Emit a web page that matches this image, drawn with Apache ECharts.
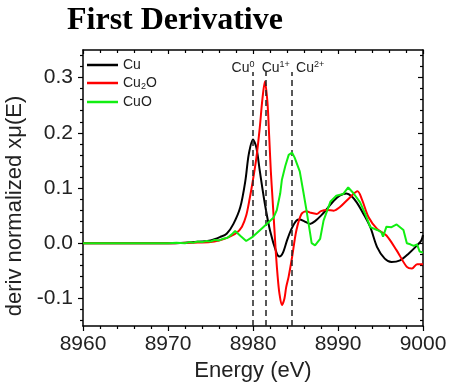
<!DOCTYPE html>
<html>
<head>
<meta charset="utf-8">
<script src="https://cdn.jsdelivr.net/npm/echarts@6/dist/echarts.min.js"></script>
<style>html,body{margin:0;padding:0;background:#fff}#c{width:452px;height:386px}</style>
</head>
<body>
<div id="c"></div>
<script>
// ---- data ----
const titleText = 'First Derivative';
const xName = 'Energy (eV)';
const yName = 'deriv normalized x\u03bc(E)';
const seriesNames = ['Cu', 'Cu2O', 'CuO'];
const xTicks = [8960, 8970, 8980, 8990, 9000];
const yTicks = [-0.1, 0.0, 0.1, 0.2, 0.3];
const yMinorTicks = [-0.14,-0.12,-0.08,-0.06,-0.04,-0.02,0.02,0.04,0.06,0.08,0.12,0.14,0.16,0.18,0.22,0.24,0.26,0.28,0.32,0.34];
const refEnergies = [8980.0, 8981.5, 8984.6];
const refLabels = ['0', '1+', '2+'];

const cuE = [8960,8965,8970,8972,8974,8975,8976.1,8976.9,8977.7,8978.5,8979.1,8979.5,8980.0,8980.4,8980.8,8981.4,8982.0,8982.8,8983.1,8983.5,8984.0,8984.5,8985.1,8985.5,8986.0,8986.7,8987.3,8988.0,8988.7,8989.5,8990.2,8991.0,8991.6,8992.2,8993.0,8993.8,8994.6,8995.5,8996.3,8997.3,8998.3,8999.3,8999.8,9000];
const cuY = [0,0,0,0.001,0.003,0.005,0.011,0.017,0.035,0.065,0.113,0.161,0.188,0.173,0.131,0.071,0.023,-0.019,-0.024,-0.018,0.005,0.025,0.041,0.043,0.040,0.035,0.040,0.050,0.062,0.077,0.086,0.090,0.085,0.074,0.053,0.029,-0.007,-0.028,-0.034,-0.031,-0.019,-0.004,0.005,0.015];

const cu2oE = [8960,8965,8970,8973,8975,8976,8977,8978,8978.7,8979.2,8979.6,8980.0,8980.4,8980.8,8981.1,8981.4,8981.7,8981.9,8982.1,8982.3,8982.5,8982.7,8982.9,8983.1,8983.4,8983.7,8983.9,8984.2,8984.6,8985.1,8985.7,8986.3,8986.8,8987.5,8988.0,8988.7,8989.5,8990.2,8991.4,8992.3,8992.8,8993.6,8994.6,8995.7,8996.9,8998.1,8998.7,8999.3,9000];
const cu2oY = [0,0,0,0.001,0.002,0.005,0.010,0.018,0.030,0.050,0.080,0.115,0.155,0.210,0.260,0.293,0.255,0.195,0.130,0.080,0.030,-0.020,-0.060,-0.090,-0.112,-0.100,-0.080,-0.060,-0.025,0.023,0.053,0.058,0.055,0.053,0.058,0.060,0.059,0.065,0.083,0.094,0.080,0.047,0.026,0.014,-0.013,-0.043,-0.046,-0.038,-0.038];

const cuoE = [8960,8965,8970,8971,8972,8972.5,8973,8973.5,8974,8974.5,8975,8975.5,8976,8976.5,8977,8977.5,8977.9,8978.6,8979.2,8980.0,8981.2,8982.4,8982.8,8983.2,8983.4,8983.8,8984.2,8984.6,8984.9,8985.5,8985.9,8986.3,8986.7,8986.9,8987.3,8987.6,8987.9,8988.3,8989.1,8989.8,8990.6,8991.2,8991.8,8992.6,8993.2,8993.8,8994.6,8995.1,8995.3,8995.7,8996.3,8996.9,8997.7,8998.1,8998.5,8998.9,8999.3,8999.6,9000];
const cuoY = [0,0,0,0.001,0.000,0.002,0.001,0.003,0.002,0.004,0.003,0.006,0.005,0.008,0.010,0.016,0.022,0.012,0.004,0.012,0.029,0.046,0.060,0.090,0.115,0.140,0.160,0.164,0.155,0.130,0.095,0.059,0.020,0.000,-0.004,0.002,0.008,0.041,0.075,0.086,0.089,0.101,0.091,0.074,0.053,0.029,0.024,0.020,0.012,0.030,0.029,0.034,0.024,0.000,-0.002,-0.005,-0.002,-0.015,-0.017];

// ---- chart ----
const zip = (a, b) => a.map((v, i) => [v, b[i]]);
const FONT = "'Liberation Sans', Arial, sans-serif";
const chart = echarts.init(document.getElementById('c'), null, {renderer: 'canvas'});

const refOffsets = [[-10, 4], [10, 4], [18, 4]];
const markData = refEnergies.map((e, i) => [
  {coord: [e, -0.15], label: {offset: refOffsets[i], formatter: '{b|Cu}{p|' + refLabels[i] + '}'}},
  {coord: [e, 0.31]}
]);

const baseY = {type: 'value', min: -0.15, max: 0.35, splitLine: {show: false}};
const baseX = {type: 'value', min: 8960, max: 9000, interval: 10, splitLine: {show: false}};
const axLine = {show: true, onZero: false, lineStyle: {color: '#000', width: 1.5}};
const noLine = {show: false, onZero: false};

chart.setOption({
  animation: false,
  backgroundColor: '#fff',
  title: {
    text: titleText, left: 67, top: 5, padding: 0,
    textStyle: {fontFamily: "'Liberation Serif', 'Times New Roman', serif", fontWeight: 'bold', fontSize: 32, color: '#000'}
  },
  grid: {left: 83, top: 50, width: 340, height: 276, containLabel: false, outerBoundsMode: 'none'},
  legend: {
    orient: 'vertical', left: 87, top: 58, padding: 0, itemGap: 4,
    itemWidth: 31, itemHeight: 2.5, icon: 'rect',
    data: seriesNames,
    formatter: n => n === 'Cu2O' ? '{n|Cu}{s|2}{n|O}' : '{n|' + n + '}',
    textStyle: {
      color: '#222', fontFamily: FONT,
      rich: {
        n: {fontSize: 14, lineHeight: 16, fontFamily: FONT, color: '#222'},
        s: {fontSize: 9, lineHeight: 10, verticalAlign: 'bottom', fontFamily: FONT, color: '#222'}
      }
    }
  },
  xAxis: [
    Object.assign({}, baseX, {
      position: 'bottom',
      name: xName, nameLocation: 'middle', nameGap: 28,
      nameTextStyle: {fontSize: 22, fontFamily: FONT, color: '#222'},
      axisLine: axLine,
      axisTick: {show: true, inside: false, length: 5, lineStyle: {color: '#000', width: 1.2}},
      minorTick: {show: true, splitNumber: 5, length: 3, lineStyle: {color: '#000', width: 1.2}},
      axisLabel: {fontSize: 21, fontFamily: FONT, color: '#222', margin: 8, formatter: v => String(v)}
    }),
    Object.assign({}, baseX, {
      position: 'top',
      axisLine: axLine,
      axisTick: {show: true, inside: true, length: 4, lineStyle: {color: '#000', width: 1.2}},
      minorTick: {show: true, splitNumber: 5, length: 3, lineStyle: {color: '#000', width: 1.2}},
      axisLabel: {show: false}
    })
  ],
  yAxis: [
    Object.assign({}, baseY, {
      position: 'left',
      name: yName, nameLocation: 'middle', nameGap: 52,
      nameTextStyle: {fontSize: 22, fontFamily: FONT, color: '#222', padding: [0, 36, 0, 0]},
      axisLine: axLine,
      axisTick: {show: true, inside: false, length: 5, customValues: yTicks, lineStyle: {color: '#000', width: 1.2}},
      axisLabel: {fontSize: 21, fontFamily: FONT, color: '#222', margin: 10, customValues: yTicks,
        formatter: v => (Math.abs(v) < 1e-9 ? 0 : v).toFixed(1)}
    }),
    Object.assign({}, baseY, {
      position: 'left',
      axisLine: noLine,
      axisTick: {show: true, inside: false, length: 3, customValues: yMinorTicks, lineStyle: {color: '#000', width: 1.2}},
      axisLabel: {show: false}
    }),
    Object.assign({}, baseY, {
      position: 'right',
      axisLine: axLine,
      axisTick: {show: true, inside: true, length: 5, customValues: yTicks, lineStyle: {color: '#000', width: 1.2}},
      axisLabel: {show: false}
    }),
    Object.assign({}, baseY, {
      position: 'right',
      axisLine: noLine,
      axisTick: {show: true, inside: true, length: 3, customValues: yMinorTicks, lineStyle: {color: '#000', width: 1.2}},
      axisLabel: {show: false}
    })
  ],
  series: [
    {
      name: 'Cu', type: 'line', data: zip(cuE, cuY), symbol: 'none', smooth: 0.3,
      lineStyle: {color: '#000', width: 2}, itemStyle: {color: '#000'}, z: 3,
      markLine: {
        silent: true, symbol: ['none', 'none'], animation: false,
        lineStyle: {color: '#222', width: 1.5, type: [6, 4]},
        label: {
          show: true, position: 'end', distance: 0,
          rich: {
            b: {fontSize: 14, lineHeight: 16, fontFamily: FONT, color: '#222'},
            p: {fontSize: 9, lineHeight: 10, verticalAlign: 'top', fontFamily: FONT, color: '#222'}
          }
        },
        data: markData
      }
    },
    {
      name: 'Cu2O', type: 'line', data: zip(cu2oE, cu2oY), symbol: 'none', smooth: 0.3,
      lineStyle: {color: '#ff0000', width: 2}, itemStyle: {color: '#ff0000'}, z: 4
    },
    {
      name: 'CuO', type: 'line', data: zip(cuoE, cuoY), symbol: 'none', smooth: false,
      lineStyle: {color: '#11ee11', width: 2}, itemStyle: {color: '#11ee11'}, z: 5
    }
  ]
});
</script>
</body>
</html>
